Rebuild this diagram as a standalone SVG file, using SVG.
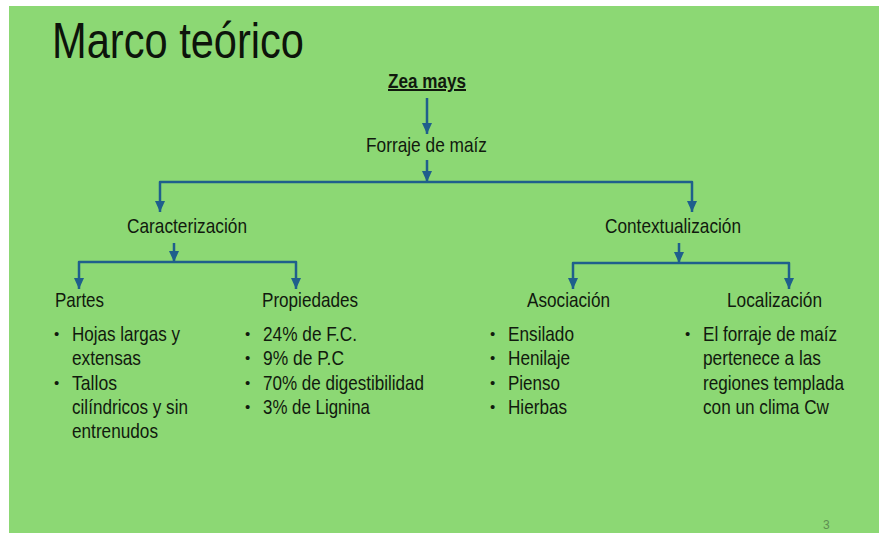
<svg xmlns="http://www.w3.org/2000/svg" width="879" height="533" viewBox="0 0 879 533">
<style>
  .t { font-family: "Liberation Sans", Arial, sans-serif; font-size: 21px; fill: #111a0e; }
  .d { font-family: "Liberation Sans", Arial, sans-serif; font-size: 15px; fill: #111a0e; }
  .title { font-family: "Liberation Sans", Arial, sans-serif; font-size: 50px; fill: #0d140b; }
  .b { font-family: "Liberation Sans", Arial, sans-serif; font-size: 20px; font-weight: bold; fill: #111a0e; text-decoration: underline; }
  .c { fill: none; stroke: #1f5f8c; stroke-width: 2.5; stroke-linejoin: round; }
  .pg { font-family: "Liberation Sans", Arial, sans-serif; font-size: 12px; fill: #5e8f52; }
</style>
<defs>
  <marker id="ah" markerUnits="userSpaceOnUse" markerWidth="11" markerHeight="10" refX="11" refY="5" orient="auto">
    <path d="M0,0 L11,5 L0,10 z" fill="#1f5f8c"/>
  </marker>
</defs>
<rect x="0" y="0" width="879" height="533" fill="#ffffff"/>
<rect x="9" y="6" width="870" height="527" fill="#8cd874"/>
<text class="title" x="52" y="58" textLength="252" lengthAdjust="spacingAndGlyphs">Marco teórico</text>

<g id="connectors">
  <path class="c" d="M427,98 V134" marker-end="url(#ah)"/>
  <path class="c" d="M427,160 V182" marker-end="url(#ah)"/>
  <path class="c" d="M427,182 H160 V212" marker-end="url(#ah)"/>
  <path class="c" d="M427,182 H692 V212" marker-end="url(#ah)"/>
  <path class="c" d="M174,243 V262" marker-end="url(#ah)"/>
  <path class="c" d="M174,262 H79 V289" marker-end="url(#ah)"/>
  <path class="c" d="M174,262 H296 V289" marker-end="url(#ah)"/>
  <path class="c" d="M679,243 V263" marker-end="url(#ah)"/>
  <path class="c" d="M679,263 H573 V289" marker-end="url(#ah)"/>
  <path class="c" d="M679,263 H789 V289" marker-end="url(#ah)"/>
</g>

<g id="zea-mays">
  <text class="b" x="388" y="88" textLength="78" lengthAdjust="spacingAndGlyphs">Zea mays</text>
</g>
<g id="forraje">
  <text class="t" x="366" y="152" textLength="121" lengthAdjust="spacingAndGlyphs">Forraje de maíz</text>
</g>
<g id="caracterizacion">
  <text class="t" x="127" y="233" textLength="120" lengthAdjust="spacingAndGlyphs">Caracterización</text>
</g>
<g id="contextualizacion">
  <text class="t" x="605" y="233" textLength="136" lengthAdjust="spacingAndGlyphs">Contextualización</text>
</g>
<g id="partes">
  <text class="t" x="55" y="307" textLength="49" lengthAdjust="spacingAndGlyphs">Partes</text>
  <text class="d" x="54" y="339">•</text>
  <text class="t" x="72" y="341" textLength="108" lengthAdjust="spacingAndGlyphs">Hojas largas y</text>
  <text class="t" x="72" y="365" textLength="69" lengthAdjust="spacingAndGlyphs">extensas</text>
  <text class="d" x="54" y="388">•</text>
  <text class="t" x="72" y="390" textLength="45" lengthAdjust="spacingAndGlyphs">Tallos</text>
  <text class="t" x="72" y="414" textLength="116" lengthAdjust="spacingAndGlyphs">cilíndricos y sin</text>
  <text class="t" x="72" y="438" textLength="86" lengthAdjust="spacingAndGlyphs">entrenudos</text>
</g>
<g id="propiedades">
  <text class="t" x="262" y="307" textLength="96" lengthAdjust="spacingAndGlyphs">Propiedades</text>
  <text class="d" x="245" y="339">•</text>
  <text class="t" x="263" y="341" textLength="94" lengthAdjust="spacingAndGlyphs">24% de F.C.</text>
  <text class="d" x="245" y="363">•</text>
  <text class="t" x="263" y="365" textLength="81" lengthAdjust="spacingAndGlyphs">9% de P.C</text>
  <text class="d" x="245" y="388">•</text>
  <text class="t" x="263" y="390" textLength="161" lengthAdjust="spacingAndGlyphs">70% de digestibilidad</text>
  <text class="d" x="245" y="412">•</text>
  <text class="t" x="263" y="414" textLength="107" lengthAdjust="spacingAndGlyphs">3% de Lignina</text>
</g>
<g id="asociacion">
  <text class="t" x="527" y="307" textLength="83" lengthAdjust="spacingAndGlyphs">Asociación</text>
  <text class="d" x="490" y="339">•</text>
  <text class="t" x="508" y="341" textLength="66" lengthAdjust="spacingAndGlyphs">Ensilado</text>
  <text class="d" x="490" y="363">•</text>
  <text class="t" x="508" y="365" textLength="62" lengthAdjust="spacingAndGlyphs">Henilaje</text>
  <text class="d" x="490" y="388">•</text>
  <text class="t" x="508" y="390" textLength="52" lengthAdjust="spacingAndGlyphs">Pienso</text>
  <text class="d" x="490" y="412">•</text>
  <text class="t" x="508" y="414" textLength="59" lengthAdjust="spacingAndGlyphs">Hierbas</text>
</g>
<g id="localizacion">
  <text class="t" x="727" y="307" textLength="95" lengthAdjust="spacingAndGlyphs">Localización</text>
  <text class="d" x="685" y="339">•</text>
  <text class="t" x="703" y="341" textLength="134" lengthAdjust="spacingAndGlyphs">El forraje de maíz</text>
  <text class="t" x="703" y="365" textLength="118" lengthAdjust="spacingAndGlyphs">pertenece a las</text>
  <text class="t" x="703" y="390" textLength="141" lengthAdjust="spacingAndGlyphs">regiones templada</text>
  <text class="t" x="703" y="414" textLength="126" lengthAdjust="spacingAndGlyphs">con un clima Cw</text>
</g>
<text class="pg" x="823" y="529">3</text>
</svg>
